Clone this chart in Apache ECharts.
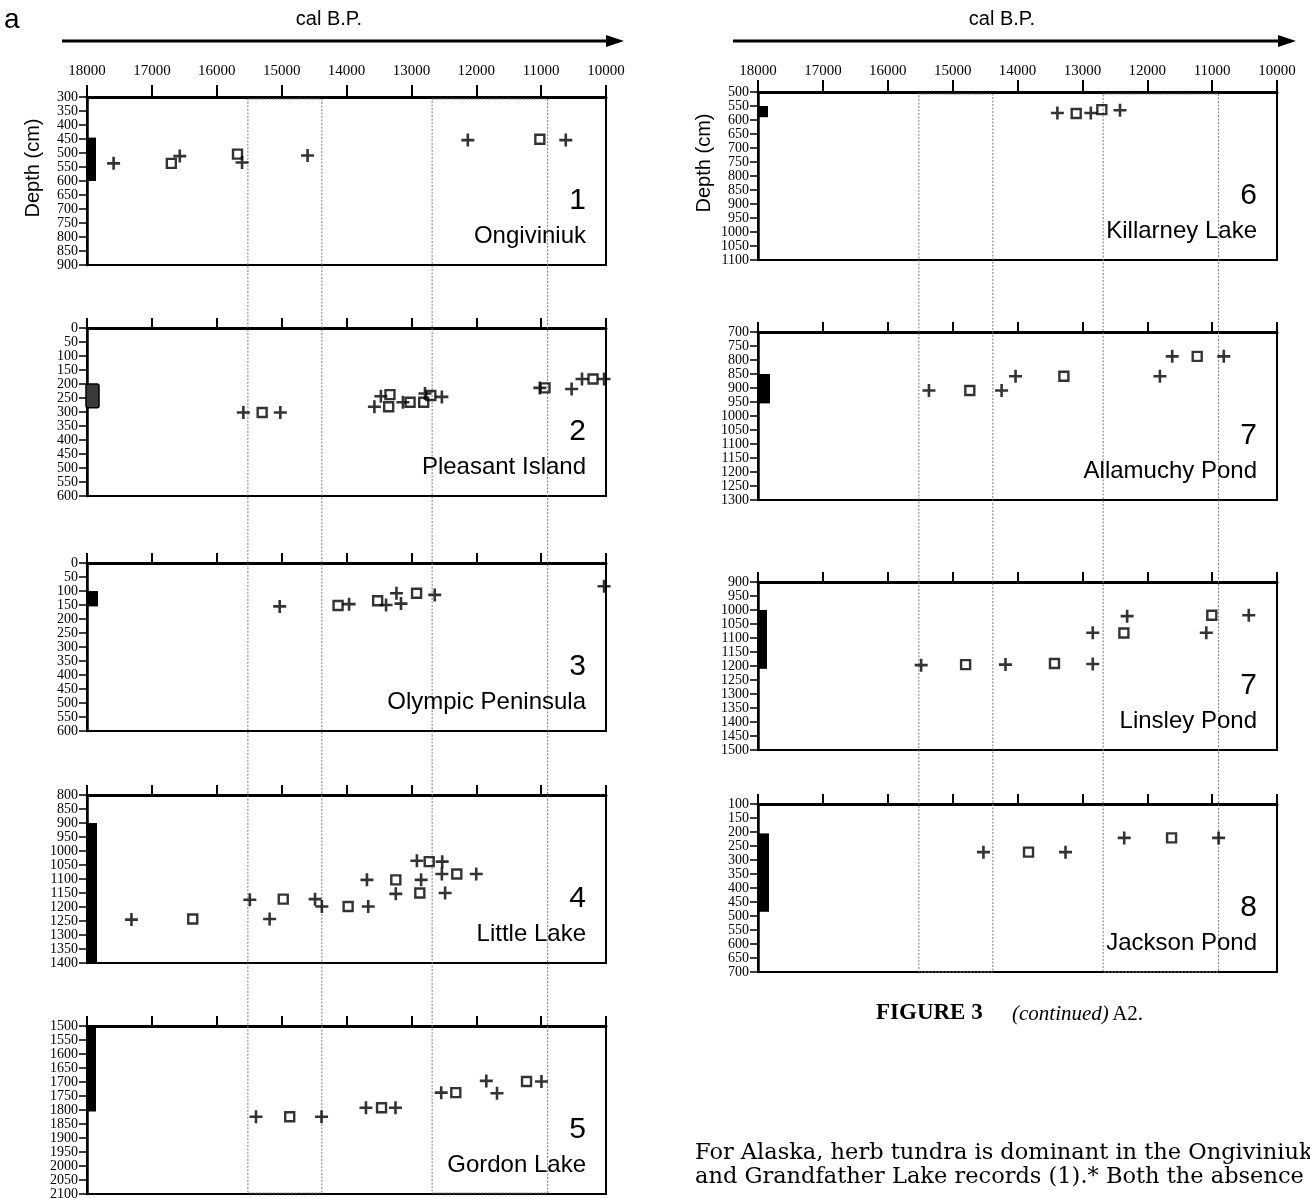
<!DOCTYPE html>
<html>
<head>
<meta charset="utf-8">
<script src="https://cdn.jsdelivr.net/npm/echarts@6/dist/echarts.min.js"></script>
<style>
  html, body { margin: 0; padding: 0; background: #fff; }
  #chart { width: 1310px; height: 1198px; }
</style>
</head>
<body>
<div id="chart"></div>
<script>
// Age axis (cal B.P.), drawn old -> young from left to right
const AGE_OLD = 18000;
const AGE_YOUNG = 10000;
const AGE_STEP = 1000;
const DEPTH_STEP = 50;

// Chronozone boundaries (cal B.P.) outlined across each column
const zoneBounds = [[15520, 14380], [12680, 10900]];

// Site records: [age cal B.P., depth cm]; "+" and square symbols; core = depth range of the dark bar
const ongiviniukDepth = [300, 900];
const ongiviniukPlus = [[17590, 537], [16570, 511], [15610, 534], [14600, 509], [12130, 454], [10620, 454]];
const ongiviniukSquare = [[16700, 537], [15680, 504], [11020, 451]];
const ongiviniukCore = [445, 600];

const pleasantDepth = [0, 600];
const pleasantPlus = [[15590, 302], [15020, 302], [13570, 281], [13470, 244], [13130, 265], [12790, 234], [12530, 246], [11020, 214], [10530, 218], [10370, 182], [10030, 182]];
const pleasantSquare = [[15300, 302], [13350, 281], [13330, 238], [13020, 265], [12810, 265], [12700, 241], [10940, 214], [10200, 182]];
const pleasantCore = [200, 285];

const olympicDepth = [0, 600];
const olympicPlus = [[15030, 155], [13960, 147], [13390, 150], [13230, 108], [13160, 145], [12640, 114], [10030, 83]];
const olympicSquare = [[14130, 152], [13520, 135], [12920, 108]];
const olympicCore = [100, 155];

const littleDepth = [800, 1400];
const littlePlus = [[17315, 1245], [15490, 1174], [15185, 1243], [14485, 1172], [14380, 1198], [13665, 1198], [13685, 1103], [13240, 1153], [12850, 1103], [12915, 1035], [12525, 1038], [12530, 1082], [12000, 1082], [12480, 1150]];
const littleSquare = [[16370, 1243], [14975, 1172], [13975, 1198], [13240, 1103], [12870, 1150], [12725, 1038], [12300, 1082]];
const littleCore = [900, 1400];

const gordonDepth = [1500, 2100];
const gordonPlus = [[15395, 1824], [14385, 1824], [13700, 1792], [13245, 1792], [12540, 1738], [11845, 1696], [11680, 1740], [10995, 1698]];
const gordonSquare = [[14875, 1824], [13460, 1792], [12315, 1738], [11225, 1698]];
const gordonCore = [1500, 1805];

const killarneyDepth = [500, 1100];
const killarneyPlus = [[13385, 575], [12870, 575], [12420, 565]];
const killarneySquare = [[13095, 577], [12700, 563]];
const killarneyCore = [550, 590];

const allamuchyDepth = [700, 1300];
const allamuchyPlus = [[15365, 909], [14245, 909], [14030, 858], [11805, 858], [11615, 787], [10820, 787]];
const allamuchySquare = [[14735, 909], [13285, 858], [11230, 787]];
const allamuchyCore = [850, 955];

const linsleyDepth = [900, 1500];
const linsleyPlus = [[15485, 1197], [14185, 1195], [12840, 1193], [12840, 1081], [12310, 1022], [11090, 1081], [10435, 1019]];
const linsleySquare = [[14800, 1195], [13430, 1191], [12360, 1082], [11005, 1019]];
const linsleyCore = [1000, 1210];

const jacksonDepth = [100, 700];
const jacksonPlus = [[14525, 272], [13260, 272], [12355, 221], [10900, 221]];
const jacksonSquare = [[13830, 272], [11625, 221]];
const jacksonCore = [205, 485];

// Layout: two columns of stacked panels
const COL_LEFT = [87, 758];
const PANEL_W = 519;
const PANEL_H = 168;
const ZONE_SPAN = [[99, 1193], [94, 972]];

const panels = [
  { col: 0, top: 97,   num: '1', name: 'Ongiviniuk',        depth: ongiviniukDepth, plus: ongiviniukPlus, square: ongiviniukSquare, core: ongiviniukCore, coreW: 10, head: true, labelGap: 18 },
  { col: 0, top: 328,  num: '2', name: 'Pleasant Island',   depth: pleasantDepth,   plus: pleasantPlus,   square: pleasantSquare,   core: pleasantCore,   coreW: 13, soft: true },
  { col: 0, top: 563,  num: '3', name: 'Olympic Peninsula', depth: olympicDepth,    plus: olympicPlus,    square: olympicSquare,    core: olympicCore,    coreW: 12 },
  { col: 0, top: 795,  num: '4', name: 'Little Lake',       depth: littleDepth,     plus: littlePlus,     square: littleSquare,     core: littleCore,     coreW: 11 },
  { col: 0, top: 1026, num: '5', name: 'Gordon Lake',       depth: gordonDepth,     plus: gordonPlus,     square: gordonSquare,     core: gordonCore,     coreW: 10 },
  { col: 1, top: 92,   num: '6', name: 'Killarney Lake',    depth: killarneyDepth,  plus: killarneyPlus,  square: killarneySquare,  core: killarneyCore,  coreW: 11, head: true, labelGap: 13 },
  { col: 1, top: 332,  num: '7', name: 'Allamuchy Pond',    depth: allamuchyDepth,  plus: allamuchyPlus,  square: allamuchySquare,  core: allamuchyCore,  coreW: 13 },
  { col: 1, top: 582,  num: '7', name: 'Linsley Pond',      depth: linsleyDepth,    plus: linsleyPlus,    square: linsleySquare,    core: linsleyCore,    coreW: 10 },
  { col: 1, top: 804,  num: '8', name: 'Jackson Pond',      depth: jacksonDepth,    plus: jacksonPlus,    square: jacksonSquare,    core: jacksonCore,    coreW: 12 }
];

const SERIF = '"Liberation Serif", "Times New Roman", serif';
const SANS = '"Liberation Sans", Arial, sans-serif';
const PLUS_PATH = 'path://M4 0h2v4h4v2H6v4H4V6H0V4h4z';
const plain = v => String(v);

const chart = echarts.init(document.getElementById('chart'), null, { renderer: 'canvas' });

const grid = [], xAxis = [], yAxis = [], series = [], graphic = [];

panels.forEach((p, i) => {
  const left = COL_LEFT[p.col];
  grid.push({
    left: left, top: p.top, width: PANEL_W, height: PANEL_H,
    outerBoundsMode: 'none', containLabel: false,
    show: true, borderColor: '#000', borderWidth: 2, backgroundColor: 'transparent'
  });
  xAxis.push({
    gridIndex: i, type: 'value', position: 'top', inverse: true,
    min: AGE_YOUNG, max: AGE_OLD, interval: AGE_STEP,
    axisLine: { show: true, lineStyle: { color: '#000', width: 3 } },
    axisTick: { show: true, inside: false, length: p.head ? 12 : 10, lineStyle: { color: '#000', width: 2 } },
    axisLabel: { show: !!p.head, margin: p.labelGap || 18, formatter: plain, fontFamily: SERIF, fontSize: 15, color: '#000' },
    splitLine: { show: false }
  });
  yAxis.push({
    gridIndex: i, type: 'value', inverse: true,
    min: p.depth[0], max: p.depth[1], interval: DEPTH_STEP,
    axisLine: { show: true, lineStyle: { color: '#000', width: 2.5 } },
    axisTick: { show: true, length: 8, lineStyle: { color: '#000', width: 1.5 } },
    axisLabel: { margin: 9, formatter: plain, fontFamily: SERIF, fontSize: 14, lineHeight: 10, color: '#000', showMinLabel: true, showMaxLabel: true },
    splitLine: { show: false }
  });

  const coreW = p.coreW, soft = !!p.soft;
  series.push({
    type: 'custom', xAxisIndex: i, yAxisIndex: i, silent: true, clip: false,
    data: [p.core], z: 3,
    renderItem: (params, api) => {
      const a = api.coord([AGE_OLD, api.value(0)]);
      const b = api.coord([AGE_OLD, api.value(1)]);
      return {
        type: 'rect',
        shape: { x: a[0] - 1, y: a[1], width: coreW, height: b[1] - a[1], r: soft ? 2 : 0 },
        style: soft ? { fill: '#3a3a3a', stroke: '#000', lineWidth: 1.5 } : { fill: '#000' }
      };
    }
  });
  series.push({
    type: 'scatter', xAxisIndex: i, yAxisIndex: i, silent: true, z: 4,
    symbol: PLUS_PATH, symbolSize: 13,
    itemStyle: { color: '#000' },
    data: p.plus
  });
  series.push({
    type: 'scatter', xAxisIndex: i, yAxisIndex: i, silent: true, z: 4,
    symbol: 'rect', symbolSize: 9,
    itemStyle: { color: 'rgba(0,0,0,0)', borderColor: '#000', borderWidth: 2.4 },
    data: p.square
  });

  // site number and name in the lower right of the panel
  const right = left + PANEL_W - 20;
  graphic.push({
    type: 'text', x: right, y: p.top + 104, z: 10,
    style: { text: p.num, font: '30px ' + SANS, fill: '#000', align: 'right', verticalAlign: 'middle', textAlign: 'right', textVerticalAlign: 'middle' }
  });
  graphic.push({
    type: 'text', x: right, y: p.top + 139, z: 10,
    style: { text: p.name, font: '24px ' + SANS, fill: '#000', align: 'right', verticalAlign: 'middle', textAlign: 'right', textVerticalAlign: 'middle' }
  });
  if (p.head) {
    graphic.push({
      type: 'text', x: left - 54, y: p.top + 71, rotation: Math.PI / 2, z: 10,
      style: { text: 'Depth (cm)', font: '20px ' + SANS, fill: '#000', align: 'center', verticalAlign: 'middle', textAlign: 'center', textVerticalAlign: 'middle' }
    });
  }
});

// Overlay grids holding the dotted chronozone outlines for each column
[0, 1].forEach(col => {
  const gi = grid.length;
  grid.push({ left: COL_LEFT[col], top: ZONE_SPAN[col][0], width: PANEL_W, height: ZONE_SPAN[col][1] - ZONE_SPAN[col][0], outerBoundsMode: 'none', show: false });
  xAxis.push({ gridIndex: gi, type: 'value', inverse: true, min: AGE_YOUNG, max: AGE_OLD, show: false });
  yAxis.push({ gridIndex: gi, type: 'value', min: 0, max: 1, show: false });
  series.push({
    type: 'custom', xAxisIndex: gi, yAxisIndex: gi, silent: true, clip: false, z: 1,
    data: zoneBounds,
    renderItem: (params, api) => {
      const a = api.coord([api.value(0), 1]);
      const b = api.coord([api.value(1), 0]);
      return {
        type: 'rect',
        shape: { x: a[0], y: a[1], width: b[0] - a[0], height: b[1] - a[1] },
        style: { fill: 'none', stroke: '#7a7a7a', lineWidth: 1, lineDash: [2, 1.5] }
      };
    }
  });
});

// Column headers: axis title with direction arrow
[[329, 62, 610], [1002, 733, 1282]].forEach(([cx, x0, x1]) => {
  graphic.push({
    type: 'text', x: cx, y: 19,
    style: { text: 'cal B.P.', font: '20px ' + SANS, fill: '#000', align: 'center', verticalAlign: 'middle', textAlign: 'center', textVerticalAlign: 'middle' }
  });
  graphic.push({
    type: 'line', shape: { x1: x0, y1: 41, x2: x1, y2: 41 },
    style: { stroke: '#000', lineWidth: 3 }
  });
  graphic.push({
    type: 'polygon', shape: { points: [[x1 - 4, 35], [x1 + 14, 41], [x1 - 4, 47]] },
    style: { fill: '#000' }
  });
});

graphic.push({
  type: 'text', x: 4, y: 20,
  style: { text: 'a', font: '28px ' + SANS, fill: '#000', align: 'left', verticalAlign: 'middle', textAlign: 'left', textVerticalAlign: 'middle' }
});

// Figure caption
graphic.push({
  type: 'text', x: 876, y: 1013,
  style: { text: 'FIGURE 3', font: 'bold 23px ' + SERIF, fill: '#000', align: 'left', verticalAlign: 'middle', textAlign: 'left', textVerticalAlign: 'middle' }
});
graphic.push({
  type: 'text', x: 1012, y: 1014,
  style: {
    text: '{i|(continued)} {r|A2.}',
    align: 'left', verticalAlign: 'middle', textAlign: 'left', textVerticalAlign: 'middle',
    rich: {
      i: { font: 'italic 21px ' + SERIF, fill: '#000', color: '#000' },
      r: { font: '21px ' + SERIF, fill: '#000', color: '#000' }
    }
  }
});

// Running text of the page below the figure
[['For Alaska, herb tundra is dominant in the Ongiviniuk', 1153],
 ['and Grandfather Lake records (1).* Both the absence', 1177]].forEach(([t, y]) => {
  graphic.push({
    type: 'text', x: 695, y: y,
    style: { text: t, font: '22.5px "DejaVu Serif", serif', fill: '#000', align: 'left', verticalAlign: 'middle', textAlign: 'left', textVerticalAlign: 'middle' }
  });
});

chart.setOption({
  animation: false,
  backgroundColor: '#fff',
  grid, xAxis, yAxis, series, graphic
});
</script>
</body>
</html>
